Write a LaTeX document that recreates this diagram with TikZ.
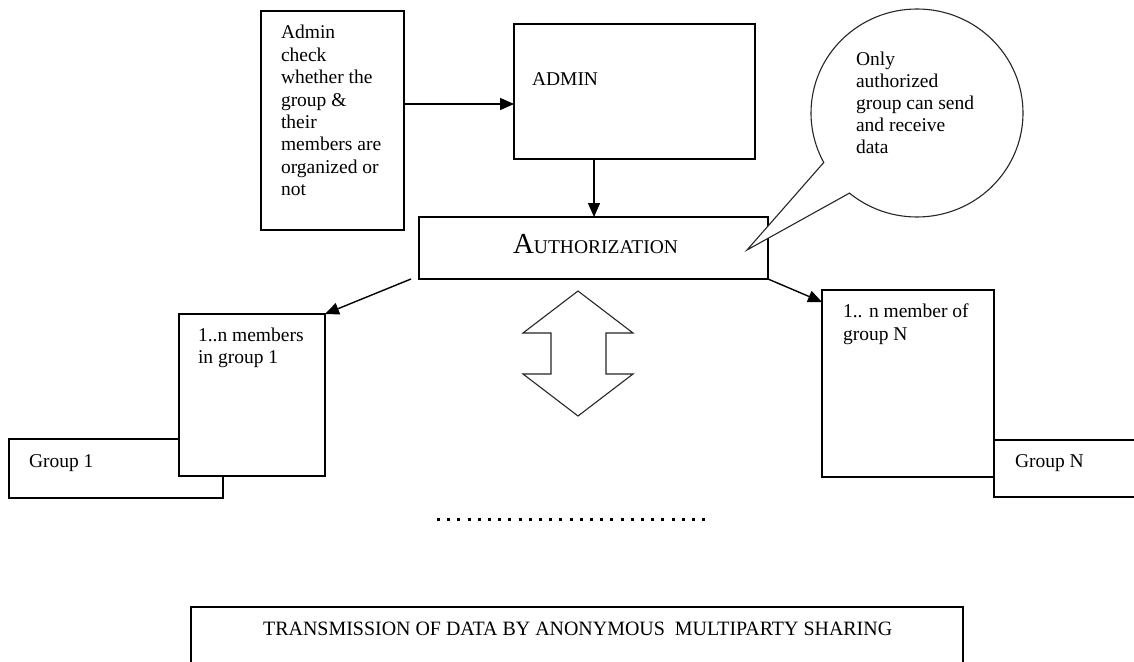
\documentclass[tikz,border=0pt]{standalone}
\usepackage{fontspec}
\setmainfont{Liberation Serif}
\usetikzlibrary{arrows.meta,shapes.callouts}
\tikzset{
  box/.style={draw, line width=1.2pt, fill=white, inner sep=0pt, outer sep=0pt, anchor=north west},
  txt/.style={inner sep=0pt, outer sep=0pt, anchor=north west, align=left,
              font=\fontsize{19.5}{22.4}\selectfont},
  lbl/.style={inner sep=0pt, outer sep=0pt, anchor=base west,
              font=\fontsize{19.5}{22.4}\selectfont},
  arr/.style={line width=1.4pt, -{Triangle[length=14pt,width=12pt]}},
}
\begin{document}
\begin{tikzpicture}[x=1pt,y=-1pt]
\useasboundingbox (0,0) rectangle (1134,661);
\clip (0,0) rectangle (1134,661);
\fill[white] (0,0) rectangle (1134,661);

% boxes
\node[box, minimum width=143pt, minimum height=219pt] (chk)   at (261,11)  {};
\node[box, minimum width=241pt, minimum height=135pt] (admin) at (514,24)  {};
\node[box, minimum width=349pt, minimum height=62pt]  (auth)  at (419,217) {};
\node[box, minimum width=214pt, minimum height=59pt]  (grp1)  at (9,439)   {};
\node[box, minimum width=146pt, minimum height=162pt] (m1)    at (179,314) {};
\node[box, minimum width=156pt, minimum height=57pt]  (grpN)  at (994,440) {};
\node[box, minimum width=172pt, minimum height=187pt] (mN)    at (822,290) {};
\node[box, minimum width=772pt, minimum height=83pt]  (trans) at (191,607) {};

% speech bubble
\node[draw, line width=1.1pt, black!85, ellipse callout, fill=white, inner sep=0pt,
      minimum width=212pt, minimum height=208pt,
      callout absolute pointer={(747,250)}, callout pointer arc=22] (bubble) at (917,113) {};

% two-way arrow between the groups
\draw[line width=1.1pt, black!85, line join=miter]
  (578,291) -- (633,333) -- (606,333) -- (606,374) -- (633,374) -- (578,416)
  -- (523,374) -- (551,374) -- (551,333) -- (523,333) -- cycle;

% dotted separator
\draw[line width=3pt, dash pattern=on 3pt off 7.2pt] (437,519) -- (712,519);

% texts
\node[txt] (chkT) at (281,23.3) {\strut Admin\\check\\whether the\\group \&\\their\\members are\\organized or\\not};
\node[lbl] (adminT) at (532,85) {ADMIN};
\node[inner sep=0pt, anchor=base] (authT) at (595.5,253)
  {{\fontsize{29}{29}\selectfont A}{\fontsize{19.5}{20}\selectfont UTHORIZATION}};
\node[txt, font=\fontsize{19.5}{22}\selectfont] (bubT) at (856,49.6)
  {\strut Only\\authorized\\group can send\\and receive\\data};
\node[txt, font=\fontsize{19.5}{21.8}\selectfont] (m1T) at (198,326.7) {\strut 1..n members\\in group 1};
\node[txt, font=\fontsize{19.5}{23}\selectfont] (mNT) at (843,300.9) {\strut 1.. n member of\\group N};
\node[lbl] (grp1T) at (29,467) {Group 1};
\node[lbl] (grpNT) at (1015,467) {Group N};
\node[inner sep=0pt, anchor=base west] (transT) at (263,635)
  {\resizebox{629pt}{13.5pt}{TRANSMISSION OF DATA BY ANONYMOUS\ \ MULTIPARTY SHARING}};

% connectors
\coordinate (ya) at (0,104);
\coordinate (xd) at (594,0);
\coordinate (yn) at (0,302);
\draw[arr] (chk.east |- ya) -- (admin.west |- ya);
\draw[arr] (xd |- admin.south) -- (xd |- auth.north);
\draw[arr] ([xshift=-8pt]auth.south west) -- (m1.north east);
\draw[arr] (auth.south east) -- (mN.west |- yn);
\end{tikzpicture}
\end{document}
